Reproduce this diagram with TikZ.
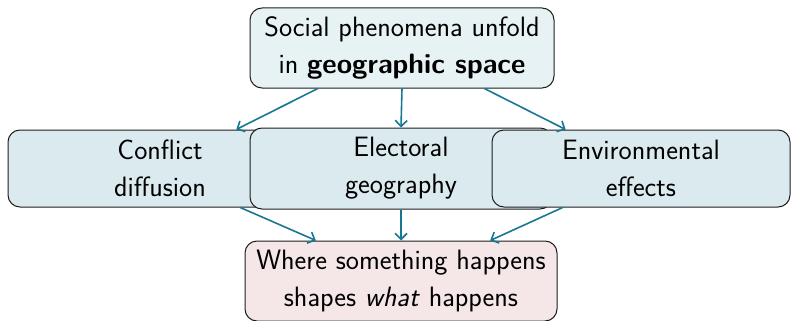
\documentclass[tikz,border=0pt]{standalone}
\usetikzlibrary{calc,arrows.meta}
\definecolor{topfill}{RGB}{231,242,244}
\definecolor{midfill}{RGB}{219,234,239}
\definecolor{botfill}{RGB}{245,231,231}
\definecolor{arrowc}{RGB}{24,120,148}
\definecolor{edgec}{RGB}{30,30,30}
\tikzset{
  box/.style={draw=edgec, line width=1pt, rounded corners=12pt, align=center,
    inner sep=0pt, font=\sffamily\fontsize{28}{37}\selectfont},
  conn/.style={draw=arrowc, line width=1.6pt, -{Straight Barb[length=6pt,width=12pt]}}
}
\begin{document}
\begin{tikzpicture}[x=1pt,y=-1pt]
\useasboundingbox (0,0) rectangle (792,321);
\node[box, fill=topfill, minimum width=304pt, minimum height=80pt] (top) at (402,48)
  {Social phenomena unfold\\in \textbf{geographic space}};
\node[box, fill=midfill, minimum width=304pt, minimum height=77pt] (left) at (160,168.5)
  {Conflict\\diffusion};
\node[box, fill=midfill, minimum width=302pt, minimum height=81pt] (mid) at (401,168.5)
  {Electoral\\geography};
\node[box, fill=midfill, minimum width=298pt, minimum height=77pt] (right) at (641,168.5)
  {Environmental\\effects};
\node[box, fill=botfill, minimum width=312pt, minimum height=80pt] (bot) at (401,281)
  {Where something happens\\shapes \textit{what} happens};
\draw[conn] ($(top.south west)!0.224!(top.south east)$) -- ($(left.north west)!0.75!(left.north east)$);
\draw[conn] (top.south) -- (mid.north);
\draw[conn] ($(top.south west)!0.77!(top.south east)$) -- ($(right.north west)!0.248!(right.north east)$);
\draw[conn] ($(left.south west)!0.763!(left.south east)$) -- ($(bot.north west)!0.228!(bot.north east)$);
\draw[conn] (mid.south) -- (bot.north);
\draw[conn] ($(right.south west)!0.238!(right.south east)$) -- ($(bot.north west)!0.785!(bot.north east)$);
\end{tikzpicture}
\end{document}
